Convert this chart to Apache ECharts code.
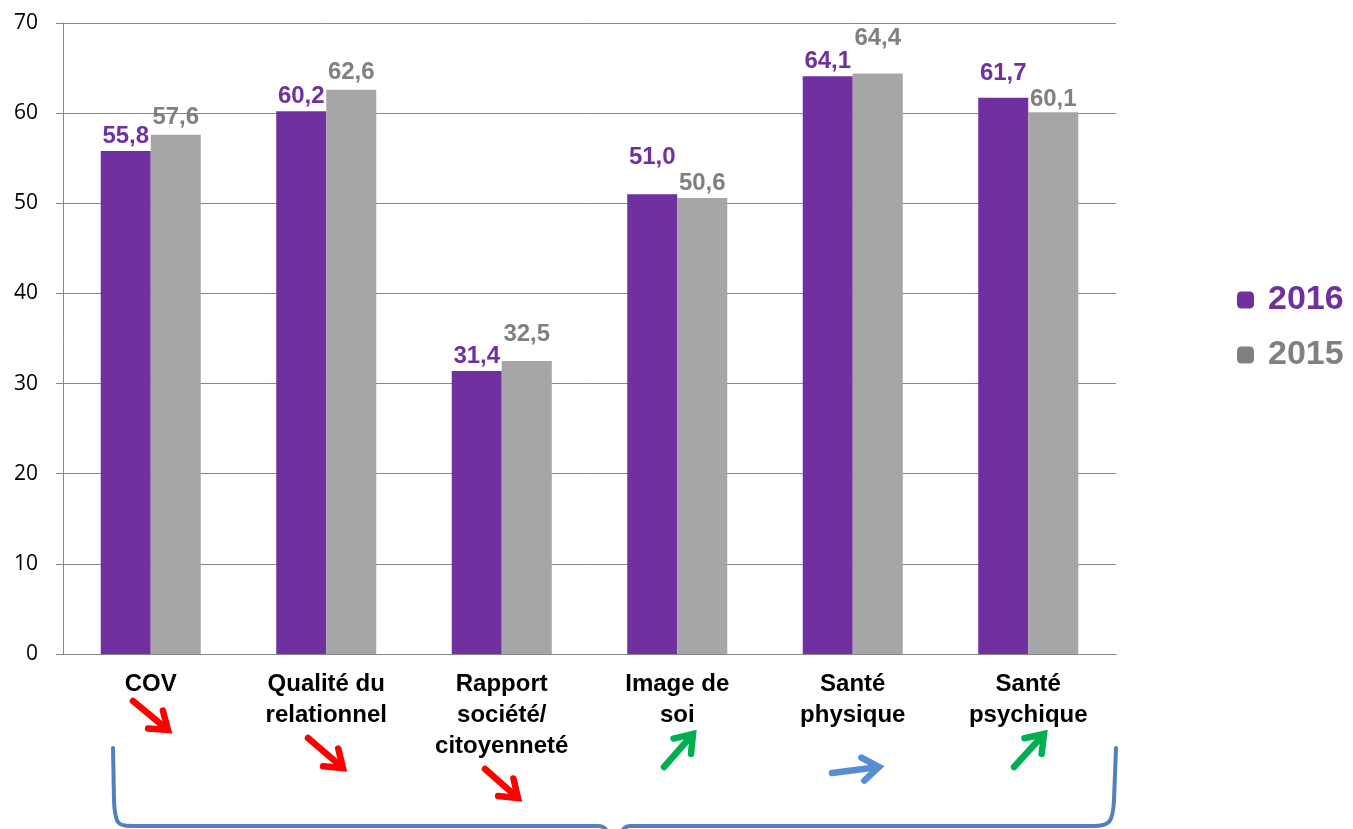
<!DOCTYPE html>
<html><head><meta charset="utf-8">
<script src="https://cdn.jsdelivr.net/npm/echarts@6/dist/echarts.min.js"></script>
<style>html,body{margin:0;padding:0;background:#fff}#c{width:1353px;height:829px}</style>
</head><body><div id="c"></div>
<script>
const categories = ['COV', 'Qualité du\nrelationnel', 'Rapport\nsociété/\ncitoyenneté', 'Image de\nsoi', 'Santé\nphysique', 'Santé\npsychique'];
const values2016 = [55.8, 60.2, 31.4, 51.0, 64.1, 61.7];
const values2015 = [57.6, 62.6, 32.5, 50.6, 64.4, 60.1];
const seriesNames = ['2016', '2015'];
// extra label lift in px (style, not data)
const lift2016 = [0, 0, 0, 22, 0, 9];
const lift2015 = [2, 2, 12, 0, 20, -2];

const SANS = "'Liberation Sans', Arial, sans-serif";
const fmt = p => p.value.toFixed(1).replace('.', ',');
const mk = (vals, lifts) => vals.map((v, i) => ({ value: v, label: { offset: [0, -lifts[i]] } }));

const RED = '#FF0000', GREEN = '#00B050', BLUE = '#558ED5', BRACE = '#4F81BD';
function arrow(x1, y1, x2, y2, color) {
  const ang = Math.atan2(y2 - y1, x2 - x1), L = 20, a = 0.62;
  const h1 = [x2 - L * Math.cos(ang - a), y2 - L * Math.sin(ang - a)];
  const h2 = [x2 - L * Math.cos(ang + a), y2 - L * Math.sin(ang + a)];
  const st = { stroke: color, lineWidth: 6.5, lineCap: 'round', lineJoin: 'miter', fill: null };
  return [
    { type: 'line', shape: { x1, y1, x2: x2 - 4 * Math.cos(ang), y2: y2 - 4 * Math.sin(ang) }, style: st },
    { type: 'polyline', shape: { points: [h1, [x2, y2], h2] }, style: st }
  ];
}
const bst = { stroke: BRACE, lineWidth: 4, fill: null, lineCap: 'round' };
const graphics = [].concat(
  arrow(133, 701, 168, 730, RED),
  arrow(308, 738, 343, 768, RED),
  arrow(485, 769, 518, 798, RED),
  arrow(664, 767, 693, 734, GREEN),
  arrow(832, 773, 879, 767, BLUE),
  arrow(1014, 767, 1044, 734, GREEN),
  [
    { type: 'line', shape: { x1: 113, y1: 748, x2: 114, y2: 800 }, style: bst },
    { type: 'bezierCurve', shape: { x1: 114, y1: 800, cpx1: 115, cpy1: 826, cpx2: 118, cpy2: 826, x2: 135, y2: 826 }, style: bst },
    { type: 'line', shape: { x1: 135, y1: 826, x2: 598, y2: 826 }, style: bst },
    { type: 'bezierCurve', shape: { x1: 598, y1: 826, cpx1: 605, cpy1: 826, cpx2: 607, cpy2: 830, x2: 609, y2: 836 }, style: bst },
    { type: 'bezierCurve', shape: { x1: 620, y1: 836, cpx1: 622, cpy1: 830, cpx2: 624, cpy2: 826, x2: 631, y2: 826 }, style: bst },
    { type: 'line', shape: { x1: 631, y1: 826, x2: 1093, y2: 826 }, style: bst },
    { type: 'bezierCurve', shape: { x1: 1093, y1: 826, cpx1: 1110, cpy1: 826, cpx2: 1113, cpy2: 822, x2: 1114, y2: 800 }, style: bst },
    { type: 'line', shape: { x1: 1114, y1: 800, x2: 1116, y2: 748 }, style: bst }
  ]
);

const chart = echarts.init(document.getElementById('c'), null, { renderer: 'canvas' });
chart.setOption({
  animation: false,
  backgroundColor: '#fff',
  grid: { left: 63, right: 237, top: 23, bottom: 175, containLabel: false },
  legend: {
    orient: 'vertical', left: 1237, top: 283, padding: 0, itemWidth: 17, itemHeight: 17, itemGap: 21,
    icon: 'roundRect',
    textStyle: { fontFamily: SANS, fontWeight: 'bold', fontSize: 34, padding: [0, 0, 0, 9] },
    data: [
      { name: seriesNames[0], textStyle: { color: '#7030A0' }, itemStyle: { color: '#7030A0' } },
      { name: seriesNames[1], textStyle: { color: '#808080' }, itemStyle: { color: '#808080' } }
    ]
  },
  xAxis: {
    type: 'category', data: categories,
    axisLine: { show: true, lineStyle: { color: '#868686', width: 1 } },
    axisTick: { show: false },
    axisLabel: { interval: 0, margin: 15, color: '#000', fontFamily: SANS, fontWeight: 'bold', fontSize: 24, lineHeight: 31 }
  },
  yAxis: {
    type: 'value', min: 0, max: 70, interval: 10,
    axisLine: { show: true, lineStyle: { color: '#868686', width: 1 } },
    axisTick: { show: true, length: 7, lineStyle: { color: '#868686' } },
    splitLine: { show: true, lineStyle: { color: '#868686', width: 1 } },
    axisLabel: { margin: 25, color: '#000', fontFamily: "'Open Sans', sans-serif", fontSize: 21 }
  },
  series: [
    {
      name: seriesNames[0], type: 'bar', data: mk(values2016, lift2016), barGap: '0%', barCategoryGap: '43%',
      itemStyle: { color: '#7030A0' },
      label: { show: true, position: 'top', distance: 3, formatter: fmt, color: '#7030A0', fontFamily: SANS, fontWeight: 'bold', fontSize: 24 }
    },
    {
      name: seriesNames[1], type: 'bar', data: mk(values2015, lift2015), barGap: '0%', barCategoryGap: '43%',
      itemStyle: { color: '#A6A6A6' },
      label: { show: true, position: 'top', distance: 3, formatter: fmt, color: '#808080', fontFamily: SANS, fontWeight: 'bold', fontSize: 24 }
    }
  ],
  graphic: graphics
});
</script></body></html>
